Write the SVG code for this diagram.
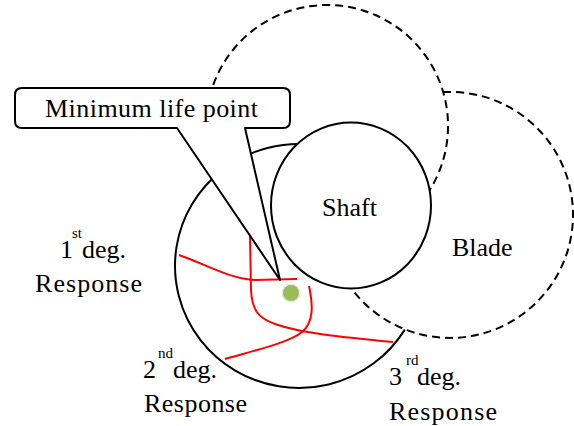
<svg xmlns="http://www.w3.org/2000/svg" width="574" height="426" viewBox="0 0 574 426">
<style>
.dash{fill:none;stroke:#000;stroke-width:2;stroke-dasharray:8 5}
.solid{fill:none;stroke:#000;stroke-width:2}
.red{fill:none;stroke:#FF0000;stroke-width:2}
</style>
<rect width="574" height="426" fill="#fff"/>
<g id="blade">
<path class="dash" d="M443.2,92.1 A123,123 0 1 1 328.9,236.4"/>
<text x="452" y="256" font-family="Liberation Serif" font-size="26" style="font-family:'Liberation Serif',serif !important">Blade</text>
</g>
<g id="top-region">
<path class="dash" d="M207.1,110 A121,121 0 1 1 419.7,203.8"/>
</g>
<g id="response-region">
<path class="solid" d="M404.8,329.6 A124,122 0 1 1 361,160.3"/>
</g>
<g id="connectors">
<path class="red" d="M179,255 C205,264 230,279 255,280 L297,279"/>
<path class="red" d="M250,236 L251,290 C252,310 258,318 275,324 C300,333 340,337 393,342"/>
<path class="red" d="M309,286 C313,305 314,322 302,332 C290,342 260,349 225,359"/>
</g>
<g id="min-point">
<circle cx="291" cy="293" r="9.5" fill="#e4ead6"/>
<circle cx="291" cy="293" r="8" fill="#9BBB59"/>
</g>
<g id="callout">
<path d="M22,88 L283,88 Q290,88 290,95 L290,121 Q290,128 283,128 L245,128 L280,280 L177,128 L22,128 Q15,128 15,121 L15,95 Q15,88 22,88 Z" fill="#fff" stroke="#000" stroke-width="2" stroke-linejoin="round"/>
<text x="45" y="117" font-family="Liberation Serif" font-size="26" style="font-family:'Liberation Serif',serif !important" textLength="213" lengthAdjust="spacing">Minimum life point</text>
</g>
<g id="shaft">
<ellipse cx="351" cy="205.5" rx="80" ry="83" fill="#fff" stroke="#000" stroke-width="2"/>
<text x="322" y="216" font-family="Liberation Serif" font-size="26" style="font-family:'Liberation Serif',serif !important">Shaft</text>
</g>
<g id="label-1st">
<text x="60" y="258" font-family="Liberation Serif" font-size="26" style="font-family:'Liberation Serif',serif !important">1</text>
<text x="72" y="238" font-family="Liberation Serif" font-size="15" style="font-family:'Liberation Serif',serif !important">st</text>
<text x="82" y="258" font-family="Liberation Serif" font-size="26" style="font-family:'Liberation Serif',serif !important">deg.</text>
<text x="35" y="292" font-family="Liberation Serif" font-size="26" style="font-family:'Liberation Serif',serif !important" textLength="107" lengthAdjust="spacing">Response</text>
</g>
<g id="label-2nd">
<text x="143" y="378" font-family="Liberation Serif" font-size="26" style="font-family:'Liberation Serif',serif !important">2</text>
<text x="158" y="358" font-family="Liberation Serif" font-size="15" style="font-family:'Liberation Serif',serif !important">nd</text>
<text x="173" y="378" font-family="Liberation Serif" font-size="26" style="font-family:'Liberation Serif',serif !important">deg.</text>
<text x="144" y="412" font-family="Liberation Serif" font-size="26" style="font-family:'Liberation Serif',serif !important" textLength="103" lengthAdjust="spacing">Response</text>
</g>
<g id="label-3rd">
<text x="389" y="385" font-family="Liberation Serif" font-size="26" style="font-family:'Liberation Serif',serif !important">3</text>
<text x="406" y="365" font-family="Liberation Serif" font-size="15" style="font-family:'Liberation Serif',serif !important">rd</text>
<text x="417" y="385" font-family="Liberation Serif" font-size="26" style="font-family:'Liberation Serif',serif !important">deg.</text>
<text x="389" y="420" font-family="Liberation Serif" font-size="26" style="font-family:'Liberation Serif',serif !important" textLength="108" lengthAdjust="spacing">Response</text>
</g>
</svg>
